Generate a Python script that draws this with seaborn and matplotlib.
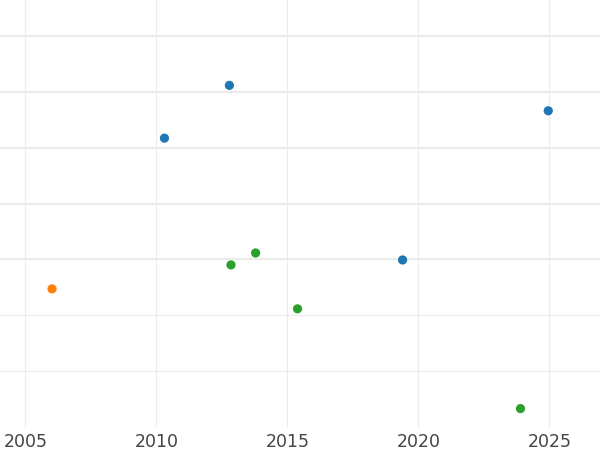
import matplotlib
matplotlib.use("Agg")
import matplotlib.pyplot as plt
import seaborn as sns
import pandas as pd

years = [2012.79, 2010.31, 2024.96, 2019.40, 2006.02, 2012.85, 2013.79, 2015.39, 2023.90]
values = [6.115, 5.170, 5.660, 2.990, 2.472, 2.901, 3.115, 2.115, 0.329]
groups = ["A", "A", "A", "A", "B", "C", "C", "C", "C"]
palette = {"A": "#1f77b4", "B": "#ff7f0e", "C": "#2ca02c"}
xticks = [2005, 2010, 2015, 2020, 2025]
ygrid = [1, 2, 3, 4, 5, 6, 7]

df = pd.DataFrame({"year": years, "value": values, "group": groups})

sns.set_theme(style="white")
plt.rcParams["font.family"] = ["DejaVu Sans"]

fig = plt.figure(figsize=(6, 4.5), dpi=100)
ax = fig.add_axes([0, 1 - 427 / 450, 1, 427 / 450])

sns.scatterplot(data=df, x="year", y="value", hue="group", palette=palette,
                s=44, linewidth=0, legend=False, ax=ax, zorder=3)

ax.set_xlim(2004.034, 2026.935)
ax.set_ylim(0.0, 7.643)
ax.set_xticks(xticks)
ax.set_xticklabels([str(t) for t in xticks])
ax.set_yticks(ygrid)
ax.set_yticklabels([])
ax.grid(True, color="#ebebeb", zorder=0)
for ln in ax.xaxis.get_gridlines():
    ln.set_linewidth(0.8)
for v, ln in zip(ygrid, ax.yaxis.get_gridlines()):
    ln.set_linewidth(1.6 if v >= 3 else 0.9)
ax.tick_params(axis="x", length=0, labelsize=12.5, labelcolor="#444444", pad=4)
ax.tick_params(axis="y", length=0)
ax.set_xlabel("")
ax.set_ylabel("")
for s in ax.spines.values():
    s.set_visible(False)

fig.savefig("out.png", dpi=100)
